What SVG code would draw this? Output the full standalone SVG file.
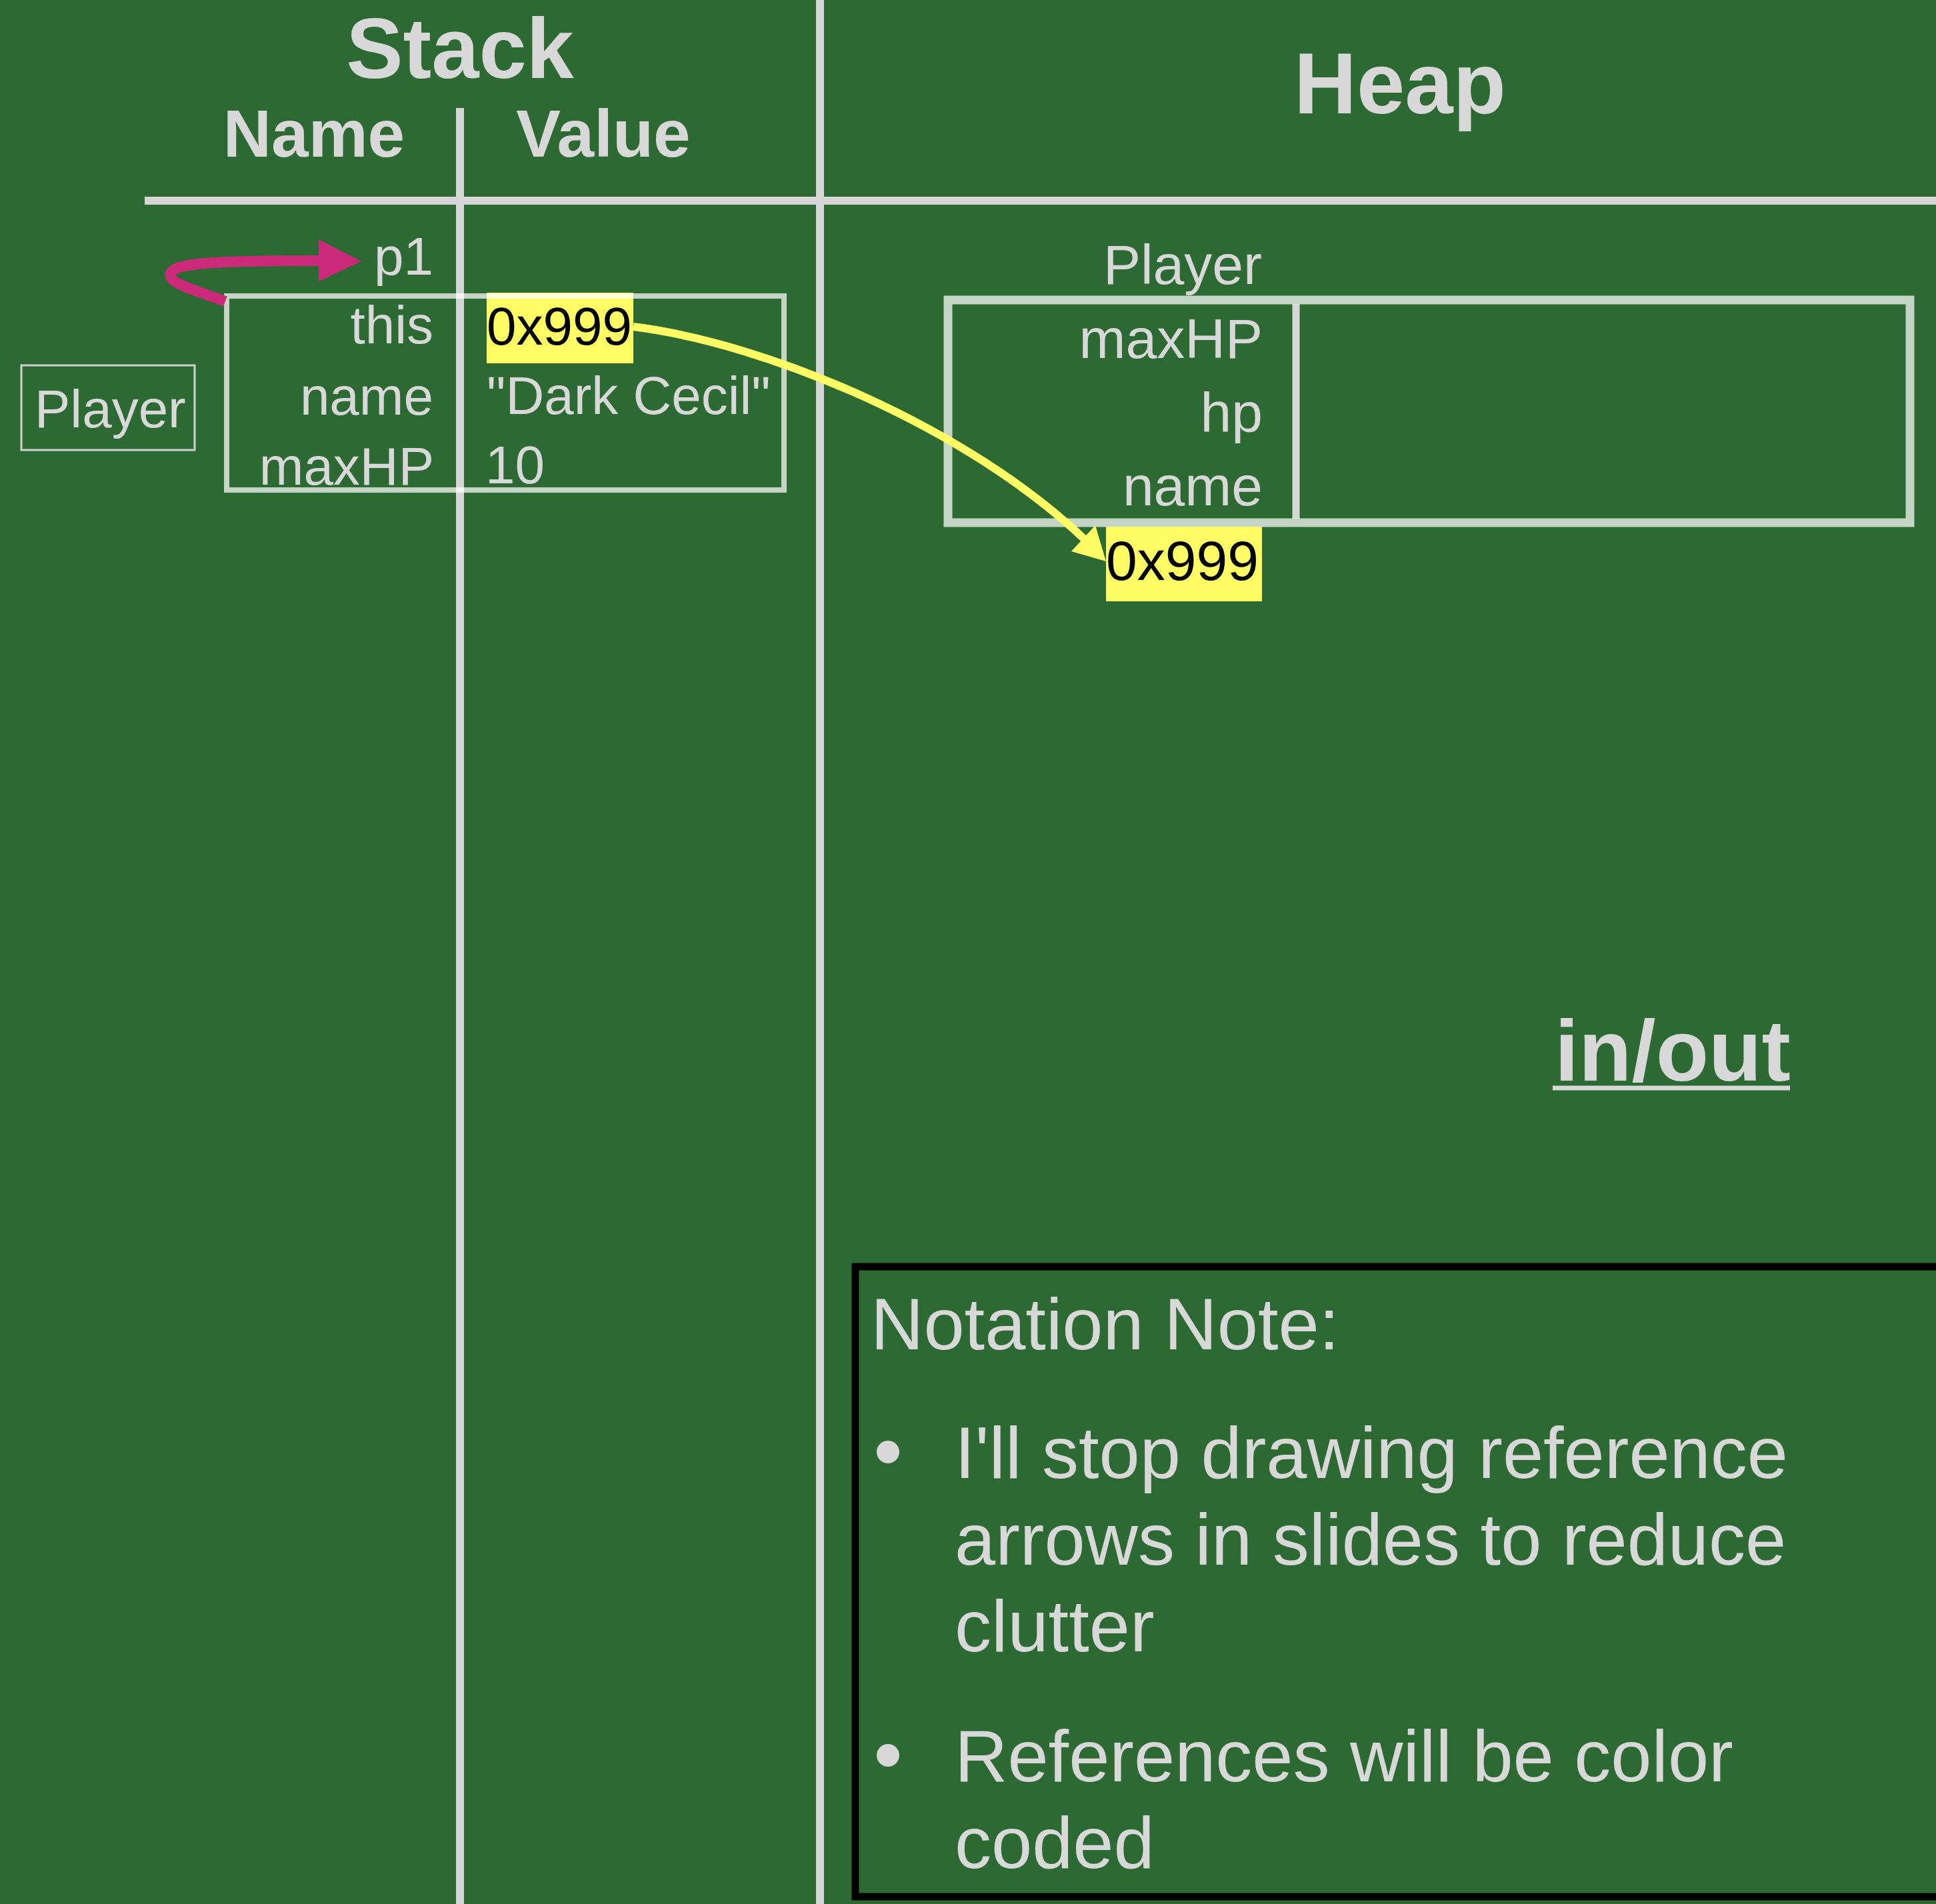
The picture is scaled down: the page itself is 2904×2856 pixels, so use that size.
<svg xmlns="http://www.w3.org/2000/svg" width="2904" height="2856" viewBox="0 0 2904 2856">
  <style>
    text { font-family: "Liberation Sans", Arial, Helvetica, sans-serif; fill: #d8d8d8; }
    .title { font-size: 130px; font-weight: bold; }
    .col { font-size: 100px; font-weight: bold; }
    .s { font-size: 80px; }
    .h { font-size: 84px; }
    .note { font-size: 110px; }
    .end { text-anchor: end; }
    .mid { text-anchor: middle; }
    .dark { fill: #000000; }
    .rule { stroke: #d6d6d6; stroke-width: 12; fill: none; }
    .frame { fill: none; stroke: #ffffff; stroke-opacity: 0.72; }
    .hl { fill: #fffc66; }
  </style>
  <rect id="background" x="0" y="0" width="2904" height="2856" fill="#2d6a33"/>

  <g id="table-lines">
    <line class="rule" x1="1230" y1="0" x2="1230" y2="2856"/>
    <line class="rule" x1="690" y1="162" x2="690" y2="2856"/>
    <line class="rule" x1="217" y1="301" x2="2904" y2="301"/>
  </g>

  <g id="stack-header">
    <text class="title mid" x="690" y="117" style="font-size:128px">Stack</text>
    <text class="col mid" x="471" y="235">Name</text>
    <text class="col mid" x="905" y="235">Value</text>
  </g>

  <g id="heap-header">
    <text class="title mid" x="2100" y="170">Heap</text>
  </g>

  <g id="player-type-label">
    <rect x="32" y="548" width="260" height="127" fill="none" stroke="#d0d0d0" stroke-width="3"/>
    <text class="s" x="52" y="641">Player</text>
  </g>

  <g id="stack-var-p1">
    <text class="s end" x="650" y="412">p1</text>
  </g>

  <g id="stack-frame">
    <rect class="hl" x="730" y="439" width="220" height="106"/>
    <text class="s end" x="650" y="515">this</text>
    <text class="s dark" x="730" y="517">0x999</text>
    <text class="s end" x="650" y="622">name</text>
    <text class="s" x="730" y="621">"Dark Cecil"</text>
    <text class="s end" x="651" y="727">maxHP</text>
    <text class="s" x="728" y="725">10</text>
    <rect class="frame" x="340" y="444" width="836" height="291" stroke-width="8"/>
  </g>

  <g id="heap-player">
    <text class="h end" x="1893" y="426">Player</text>
    <line x1="1944" y1="456" x2="1944" y2="778" stroke="#d6d6d6" stroke-width="11"/>
    <text class="h end" x="1894" y="537">maxHP</text>
    <text class="h end" x="1894" y="648">hp</text>
    <text class="h end" x="1894" y="758">name</text>
    <rect class="frame" x="1422" y="450" width="1443" height="334" stroke-width="13"/>
    <rect class="hl" x="1659" y="790" width="234" height="112"/>
    <text class="h dark" x="1659" y="870">0x999</text>
  </g>

  <g id="in-out">
    <text class="title" x="2332" y="1621">in/out</text>
    <line x1="2329" y1="1632" x2="2685" y2="1632" stroke="#d8d8d8" stroke-width="7"/>
  </g>

  <g id="notation-note">
    <rect x="1283" y="1900" width="1640" height="945" fill="none" stroke="#000000" stroke-width="11"/>
    <text class="note" x="1306" y="2024">Notation Note:</text>
    <circle cx="1332" cy="2178" r="17" fill="#d8d8d8"/>
    <text class="note" x="1432" y="2217">I'll stop drawing reference</text>
    <text class="note" x="1432" y="2347">arrows in slides to reduce</text>
    <text class="note" x="1432" y="2477">clutter</text>
    <circle cx="1332" cy="2633" r="17" fill="#d8d8d8"/>
    <text class="note" x="1432" y="2672">References will be color</text>
    <text class="note" x="1432" y="2802">coded</text>
  </g>

  <g id="connectors">
    <path d="M 338 452 C 282 432, 252 424, 256 410 C 261 394, 330 391, 482 391" fill="none" stroke="#cb2a7b" stroke-width="16"/>
    <polygon points="542,392 478,359 478,422" fill="#cb2a7b"/>
    <path d="M 950 490 C 1150 515, 1450 640, 1628 810" fill="none" stroke="#fffc66" stroke-width="12"/>
    <polygon points="1659,842 1643,788 1607,827" fill="#fffc66"/>
  </g>
</svg>
